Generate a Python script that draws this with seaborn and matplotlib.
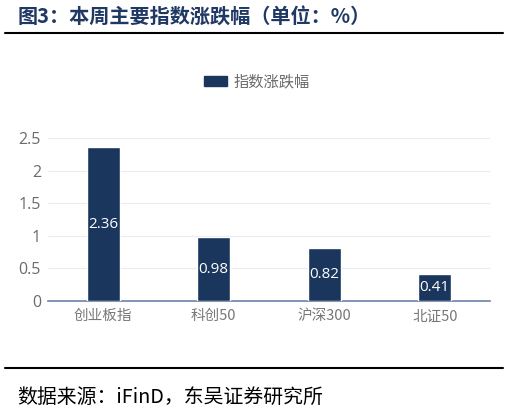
import matplotlib
matplotlib.use("Agg")
import matplotlib.pyplot as plt
import seaborn as sns
import pandas as pd
from matplotlib.lines import Line2D

categories = ["创业板指", "科创50", "沪深300", "北证50"]
values = [2.36, 0.98, 0.82, 0.41]
series_name = "指数涨跌幅"
y_ticks = [0, 0.5, 1, 1.5, 2, 2.5]
y_tick_labels = ["0", "0.5", "1", "1.5", "2", "2.5"]

BAR_COLOR = "#1b365d"
TITLE_COLOR = "#1f3864"
GRAY = "#6b6b6b"

sns.set_theme(style="white")
plt.rcParams["font.family"] = ["Noto Sans CJK SC", "DejaVu Sans"]

df = pd.DataFrame({"指数": categories, "涨跌幅": values})

fig = plt.figure(figsize=(5.1, 4.16), dpi=100)
ax = fig.add_axes([48 / 510, 1 - 301 / 416, 442 / 510, 163 / 416])

sns.barplot(data=df, x="指数", y="涨跌幅", color=BAR_COLOR, width=0.3,
            saturation=1, ax=ax, zorder=3)

ax.set_ylim(0, 2.5)
ax.set_xlim(-0.5, 3.5)
ax.set_yticks(y_ticks)
ax.set_yticklabels(y_tick_labels, color=GRAY, fontsize=11.5, family="Open Sans")
ax.set_xticklabels(categories, color="#777777", fontsize=10.5)
ax.tick_params(axis="y", length=0, pad=5)
ax.tick_params(axis="x", length=0, pad=6)
ax.set_xlabel("")
ax.set_ylabel("")
ax.grid(axis="y", color="#e8ebf2", linewidth=0.8, zorder=0)
for side in ["top", "right", "left"]:
    ax.spines[side].set_visible(False)
ax.spines["bottom"].set_color("#6e80ad")
ax.spines["bottom"].set_linewidth(1.2)

for i, v in enumerate(values):
    ax.text(i, v / 2, f"{v:.2f}", ha="center", va="center", color="white",
            fontsize=11, family="Open Sans", zorder=4)

handle = plt.Rectangle((0, 0), 1, 1, color=BAR_COLOR)
fig.legend([handle], [series_name], loc="center", bbox_to_anchor=(257 / 510, 1 - 82 / 416),
           frameon=False, fontsize=11, labelcolor=GRAY, handlelength=1.5,
           handleheight=0.6, handletextpad=0.4)

fig.text(18 / 510, 1 - 16 / 416, "图3：本周主要指数涨跌幅（单位：%）", fontsize=14.5,
         fontweight="bold", color=TITLE_COLOR, va="center", ha="left")
fig.add_artist(Line2D([5 / 510, 503 / 510], [1 - 33 / 416, 1 - 33 / 416],
                      color="black", linewidth=1.5))
fig.add_artist(Line2D([5 / 510, 503 / 510], [1 - 368 / 416, 1 - 368 / 416],
                      color="black", linewidth=1.5))
fig.text(17 / 510, 1 - 397 / 416, "数据来源：iFinD，东吴证券研究所", fontsize=14.3,
         color="black", va="center", ha="left")

fig.savefig("out.png", dpi=100)
